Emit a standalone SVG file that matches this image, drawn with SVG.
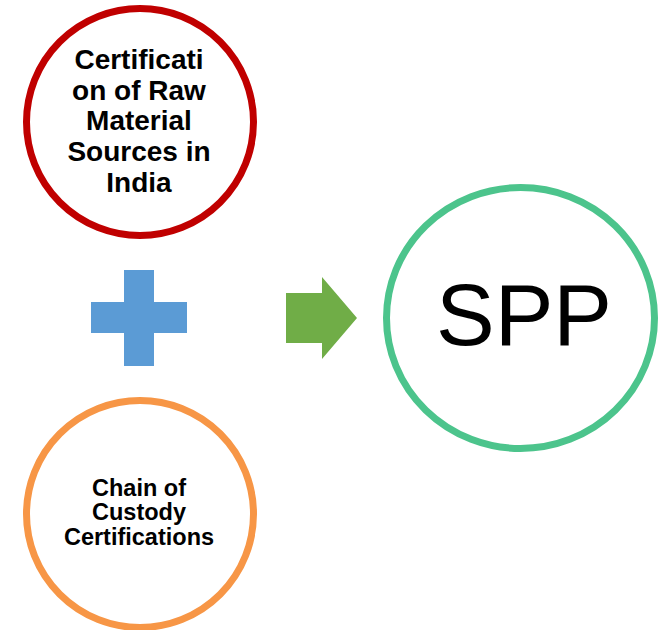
<svg xmlns="http://www.w3.org/2000/svg" width="659" height="630" viewBox="0 0 659 630">
<style>
.ring{fill:#FFFFFF;stroke-width:7}
.lbl{font-family:"Liberation Sans",Arial,sans-serif;font-weight:bold;fill:#000000;text-anchor:middle}
</style>
<rect width="659" height="630" fill="#FFFFFF"/>
<g id="node-raw">
<circle class="ring" cx="140" cy="122" r="113.5" stroke="#C00000"/>
<text class="lbl" font-size="28"><tspan x="139" y="69">Certificati</tspan><tspan x="139" y="100">on of Raw</tspan><tspan x="139" y="130">Material</tspan><tspan x="139" y="161">Sources in</tspan><tspan x="139" y="192">India</tspan></text>
</g>
<g id="node-chain">
<circle class="ring" cx="140" cy="514" r="113.5" stroke="#F79646"/>
<text class="lbl" font-size="23.5"><tspan x="139" y="496">Chain of</tspan><tspan x="139" y="520">Custody</tspan><tspan x="139" y="545">Certifications</tspan></text>
</g>
<g id="node-plus">
<polygon points="124,270 154,270 154,302 187,302 187,333 154,333 154,366 124,366 124,333 91,333 91,302 124,302" fill="#5B9BD5"/>
</g>
<g id="connectors">
<polygon points="286,293 322,293 322,277 357,318 322,359 322,343 286,343" fill="#70AD47"/>
</g>
<g id="node-spp">
<ellipse class="ring" cx="520.5" cy="318" rx="134" ry="130.5" stroke="#4CC48C"/>
<text x="524" y="345" font-family="'Liberation Sans',Arial,sans-serif" font-size="88" text-anchor="middle" fill="#000000">SPP</text>
</g>
</svg>
